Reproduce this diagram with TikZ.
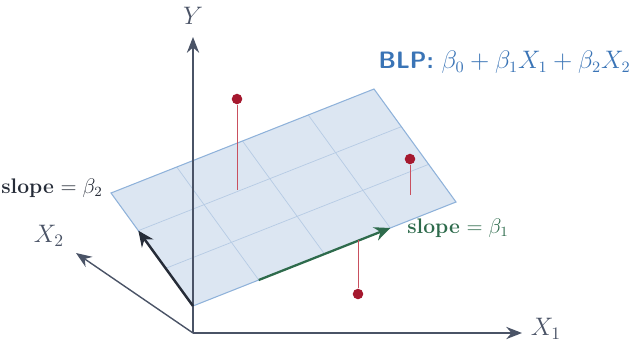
\documentclass[tikz,border=0pt]{standalone}
\usetikzlibrary{arrows.meta,calc}
\definecolor{axisgray}{HTML}{4A5366}
\definecolor{planefill}{HTML}{DCE6F2}
\definecolor{planeedge}{HTML}{8FB2DA}
\definecolor{gridblue}{HTML}{B6CBE4}
\definecolor{blpblue}{HTML}{3A74B6}
\definecolor{slopegreen}{HTML}{2E6B4C}
\definecolor{slopedark}{HTML}{262C38}
\definecolor{pointred}{HTML}{A5182E}
\definecolor{residred}{HTML}{C9505F}
\tikzset{
  axis/.style={draw=axisgray, line width=0.8pt, -{Stealth[length=9pt,width=7pt,inset=3pt]}},
  gridline/.style={draw=gridblue, line width=0.4pt},
  resid/.style={draw=residred, line width=0.5pt},
  obs/.style={circle, fill=pointred, inner sep=0pt, minimum size=6pt},
}
\begin{document}
\begin{tikzpicture}[x=0.02cm,y=-0.02cm]
\useasboundingbox (0,0) rectangle (636,342);
% plane corners
\coordinate (A) at (193,306);
\coordinate (B) at (456,202);
\coordinate (C) at (374,89);
\coordinate (D) at (111,193);
\fill[planefill] (A) -- (B) -- (C) -- (D) -- cycle;
\foreach \t in {0.25,0.5,0.75}
  \draw[gridline] ($(A)!\t!(B)$) -- ($(D)!\t!(C)$);
\foreach \t in {0.3333,0.6667}
  \draw[gridline] ($(A)!\t!(D)$) -- ($(B)!\t!(C)$);
\draw[planeedge, line width=0.6pt] (A) -- (B) -- (C) -- (D) -- cycle;
% axes
\coordinate (O) at (193,333);
\coordinate (Ytip) at (193,37);
\coordinate (X1tip) at (522,333);
\coordinate (X2tip) at (76,253);
\draw[axis] (O) -- (Ytip);
\draw[axis] (O) -- (X1tip);
\draw[axis] (O) -- (X2tip);
\node (ylab) at (193,16) {\Large\color{axisgray}$Y$};
\node (x1lab) at (546,329) {\Large\color{axisgray}$X_1$};
\node (x2lab) at (49,236) {\Large\color{axisgray}$X_2$};
% slopes
\coordinate (g0) at ($(A)!0.25!(B)$);
\coordinate (g1) at ($(A)!0.75!(B)$);
\coordinate (k1) at ($(A)!0.6667!(D)$);
\draw[slopegreen, line width=1.3pt, -{Stealth[length=9pt,width=8pt,inset=3pt]}] (g0) -- (g1);
\draw[slopedark, line width=1.4pt, -{Stealth[length=9pt,width=8pt,inset=3pt]}] (A) -- (k1);
\node[anchor=west, inner sep=0pt, text=slopegreen] (s1) at (407,228) {\large\textbf{slope} $=\beta_1$};
\node[anchor=east, inner sep=0pt, text=slopedark] (s2) at (103,188) {\large\textbf{slope} $=\beta_2$};
\node[anchor=east, inner sep=0pt, text=blpblue] (blp) at (631,62) {\fontsize{13.5}{16}\selectfont\textsf{\textbf{BLP:}} $\beta_0+\beta_1X_1+\beta_2X_2$};
% observations
\node[obs] (p1) at (237,99) {};
\node[obs] (p2) at (410,159) {};
\node[obs] (p3) at (358,294) {};
\coordinate (f1) at (237,190);
\coordinate (f2) at (410,195);
\coordinate (f3) at (358,240);
\draw[resid] (p1) -- (f1);
\draw[resid] (p2) -- (f2);
\draw[resid] (p3) -- (f3);
\end{tikzpicture}
\end{document}
